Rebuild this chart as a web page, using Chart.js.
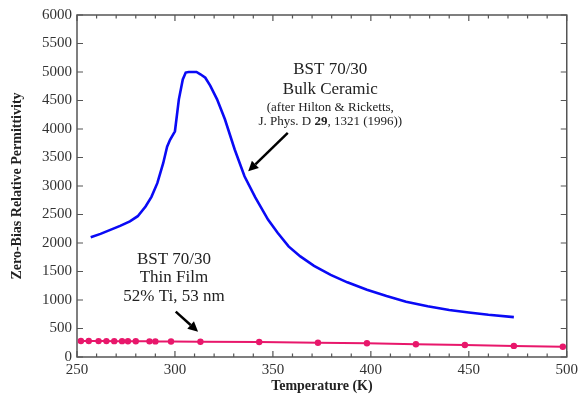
<!DOCTYPE html>
<html>
<head>
<meta charset="utf-8">
<script src="https://cdn.jsdelivr.net/npm/chart.js@4"></script>
<style>
  html, body { margin: 0; padding: 0; background: #fff; }
  #wrap { width: 582px; height: 396px; }
</style>
</head>
<body>
<div id="wrap"><canvas id="permChart" width="582" height="396"></canvas></div>
<script>
// bulk ceramic (after Hilton & Ricketts)
const bulkTemps = [257, 262, 267, 272, 277, 281, 285, 288, 291, 294, 296, 297.5, 300, 302, 304, 305.5, 307, 311, 313, 315.5, 318, 321.5, 325.5, 330.5, 335.5, 341, 347.5, 352.5, 358, 364, 371, 379.5, 388, 398, 408, 418, 429, 440, 450, 460, 473];
const bulkPerm = [2100, 2160, 2230, 2300, 2380, 2470, 2640, 2810, 3050, 3400, 3690, 3810, 3960, 4520, 4870, 4990, 5000, 5000, 4960, 4900, 4760, 4520, 4170, 3640, 3170, 2800, 2410, 2175, 1940, 1765, 1600, 1440, 1310, 1180, 1070, 970, 890, 825, 780, 740, 700];

// thin film, 52% Ti, 53 nm
const filmTemps = [252, 256, 261, 265, 269, 273, 276, 280, 287, 290, 298, 313, 343, 373, 398, 423, 448, 473, 498];
const filmPerm = [280, 280, 279, 279, 278, 278, 277, 277, 275, 274, 272, 268, 262, 250, 241, 225, 211, 195, 181];

const xTickLabels = [250, 300, 350, 400, 450, 500];
const xMinorTicks = [260, 270, 280, 290, 310, 320, 330, 340, 360, 370, 380, 390, 410, 420, 430, 440, 460, 470, 480, 490];
const yTickLabels = [0, 500, 1000, 1500, 2000, 2500, 3000, 3500, 4000, 4500, 5000, 5500, 6000];

const serif = '"Liberation Serif", "DejaVu Serif", serif';

// 그래프 테두리 + 안쪽 눈금
const frameTicks = {
    id: 'frameTicks',
    beforeDatasetsDraw(chart) {
        const { ctx, chartArea: a, scales } = chart;
        ctx.save();
        ctx.strokeStyle = '#555';
        ctx.lineWidth = 1.5;
        ctx.strokeRect(a.left, a.top, a.right - a.left, a.bottom - a.top);
        ctx.lineWidth = 1.2;
        ctx.beginPath();
        xTickLabels.forEach(v => {
            const x = scales.x.getPixelForValue(v);
            ctx.moveTo(x, a.bottom); ctx.lineTo(x, a.bottom - 6);
            ctx.moveTo(x, a.top); ctx.lineTo(x, a.top + 6);
        });
        xMinorTicks.forEach(v => {
            const x = scales.x.getPixelForValue(v);
            ctx.moveTo(x, a.bottom); ctx.lineTo(x, a.bottom - 3.5);
            ctx.moveTo(x, a.top); ctx.lineTo(x, a.top + 3.5);
        });
        yTickLabels.forEach(v => {
            const y = scales.y.getPixelForValue(v);
            ctx.moveTo(a.left, y); ctx.lineTo(a.left + 6, y);
            ctx.moveTo(a.right, y); ctx.lineTo(a.right - 6, y);
        });
        ctx.stroke();
        ctx.restore();
    }
};

function arrow(ctx, x1, y1, x2, y2) {
    const ang = Math.atan2(y2 - y1, x2 - x1);
    const hl = 10, hw = 5;
    const bx = x2 - hl * Math.cos(ang), by = y2 - hl * Math.sin(ang);
    ctx.beginPath();
    ctx.moveTo(x1, y1); ctx.lineTo(bx, by);
    ctx.stroke();
    ctx.beginPath();
    ctx.moveTo(x2, y2);
    ctx.lineTo(bx + hw * Math.sin(ang), by - hw * Math.cos(ang));
    ctx.lineTo(bx - hw * Math.sin(ang), by + hw * Math.cos(ang));
    ctx.closePath();
    ctx.fill();
}

// 주석 텍스트와 화살표 (데이터 좌표 기준)
const notes = {
    id: 'notes',
    afterDatasetsDraw(chart) {
        const { ctx, scales } = chart;
        const px = v => scales.x.getPixelForValue(v);
        const py = v => scales.y.getPixelForValue(v);
        ctx.save();
        ctx.fillStyle = '#222';
        ctx.textAlign = 'center';
        ctx.textBaseline = 'middle';

        ctx.font = '17px ' + serif;
        ctx.fillText('BST 70/30', px(379.3), py(5044));
        ctx.fillText('Bulk Ceramic', px(379.3), py(4692));
        ctx.font = '13px ' + serif;
        ctx.fillText('(after Hilton & Ricketts,', px(379.3), py(4376));

        // J. Phys. D 29, 1321 (1996)) - "29" in bold
        const parts = [['J. Phys. D ', '13px '], ['29', 'bold 13px '], [', 1321 (1996))', '13px ']];
        let total = 0;
        parts.forEach(p => { ctx.font = p[1] + serif; total += ctx.measureText(p[0]).width; });
        let x = px(379.3) - total / 2;
        ctx.textAlign = 'left';
        parts.forEach(p => {
            ctx.font = p[1] + serif;
            ctx.fillText(p[0], x, py(4130));
            x += ctx.measureText(p[0]).width;
        });

        ctx.textAlign = 'center';
        ctx.font = '17px ' + serif;
        ctx.fillText('BST 70/30', px(299.5), py(1705));
        ctx.fillText('Thin Film', px(299.5), py(1388));
        ctx.fillText('52% Ti, 53 nm', px(299.5), py(1054));

        ctx.strokeStyle = '#000';
        ctx.fillStyle = '#000';
        ctx.lineWidth = 2.5;
        arrow(ctx, px(357.6), py(3931), px(337.4), py(3257));
        arrow(ctx, px(300.4), py(796), px(311.8), py(445));
        ctx.restore();
    }
};

const ctx = document.getElementById('permChart').getContext('2d');
new Chart(ctx, {
    type: 'scatter',
    data: {
        datasets: [{
            label: 'Bulk Ceramic',
            data: bulkTemps.map((t, i) => ({ x: t, y: bulkPerm[i] })),
            showLine: true,
            borderColor: '#0a0af5',
            borderWidth: 2.6,
            pointRadius: 0,
            tension: 0
        }, {
            label: 'Thin Film',
            data: filmTemps.map((t, i) => ({ x: t, y: filmPerm[i] })),
            showLine: true,
            borderColor: '#e8176b',
            backgroundColor: '#e8176b',
            borderWidth: 2,
            pointRadius: 3.2,
            pointBorderWidth: 0,
            tension: 0
        }]
    },
    options: {
        responsive: false,
        animation: false,
        events: [],
        layout: { padding: { top: 15, right: 10, left: 0, bottom: 0 } },
        plugins: { legend: { display: false }, tooltip: { enabled: false } },
        scales: {
            x: {
                type: 'linear',
                min: 250, max: 500,
                afterBuildTicks: s => { s.ticks = xTickLabels.map(v => ({ value: v })); },
                afterFit: s => { s.height = 39; },
                grid: { display: false, drawTicks: false },
                border: { display: false },
                ticks: { color: '#333', padding: 4, maxRotation: 0, font: { family: serif, size: 15 }, callback: v => String(v) },
                title: {
                    display: true, text: 'Temperature (K)', color: '#222',
                    padding: { top: 0, bottom: 1 },
                    font: { family: serif, size: 14, weight: 'bold' }
                }
            },
            y: {
                min: 0, max: 6000,
                afterBuildTicks: s => { s.ticks = yTickLabels.map(v => ({ value: v })); },
                afterFit: s => { s.width = 77; },
                grid: { display: false, drawTicks: false },
                border: { display: false },
                ticks: { color: '#333', padding: 5, font: { family: serif, size: 15 }, callback: v => String(v) },
                title: {
                    display: true, text: 'Zero-Bias Relative Permittivity', color: '#222',
                    padding: { top: 9, bottom: 0 },
                    font: { family: serif, size: 14, weight: 'bold' }
                }
            }
        }
    },
    plugins: [frameTicks, notes]
});
</script>
</body>
</html>
